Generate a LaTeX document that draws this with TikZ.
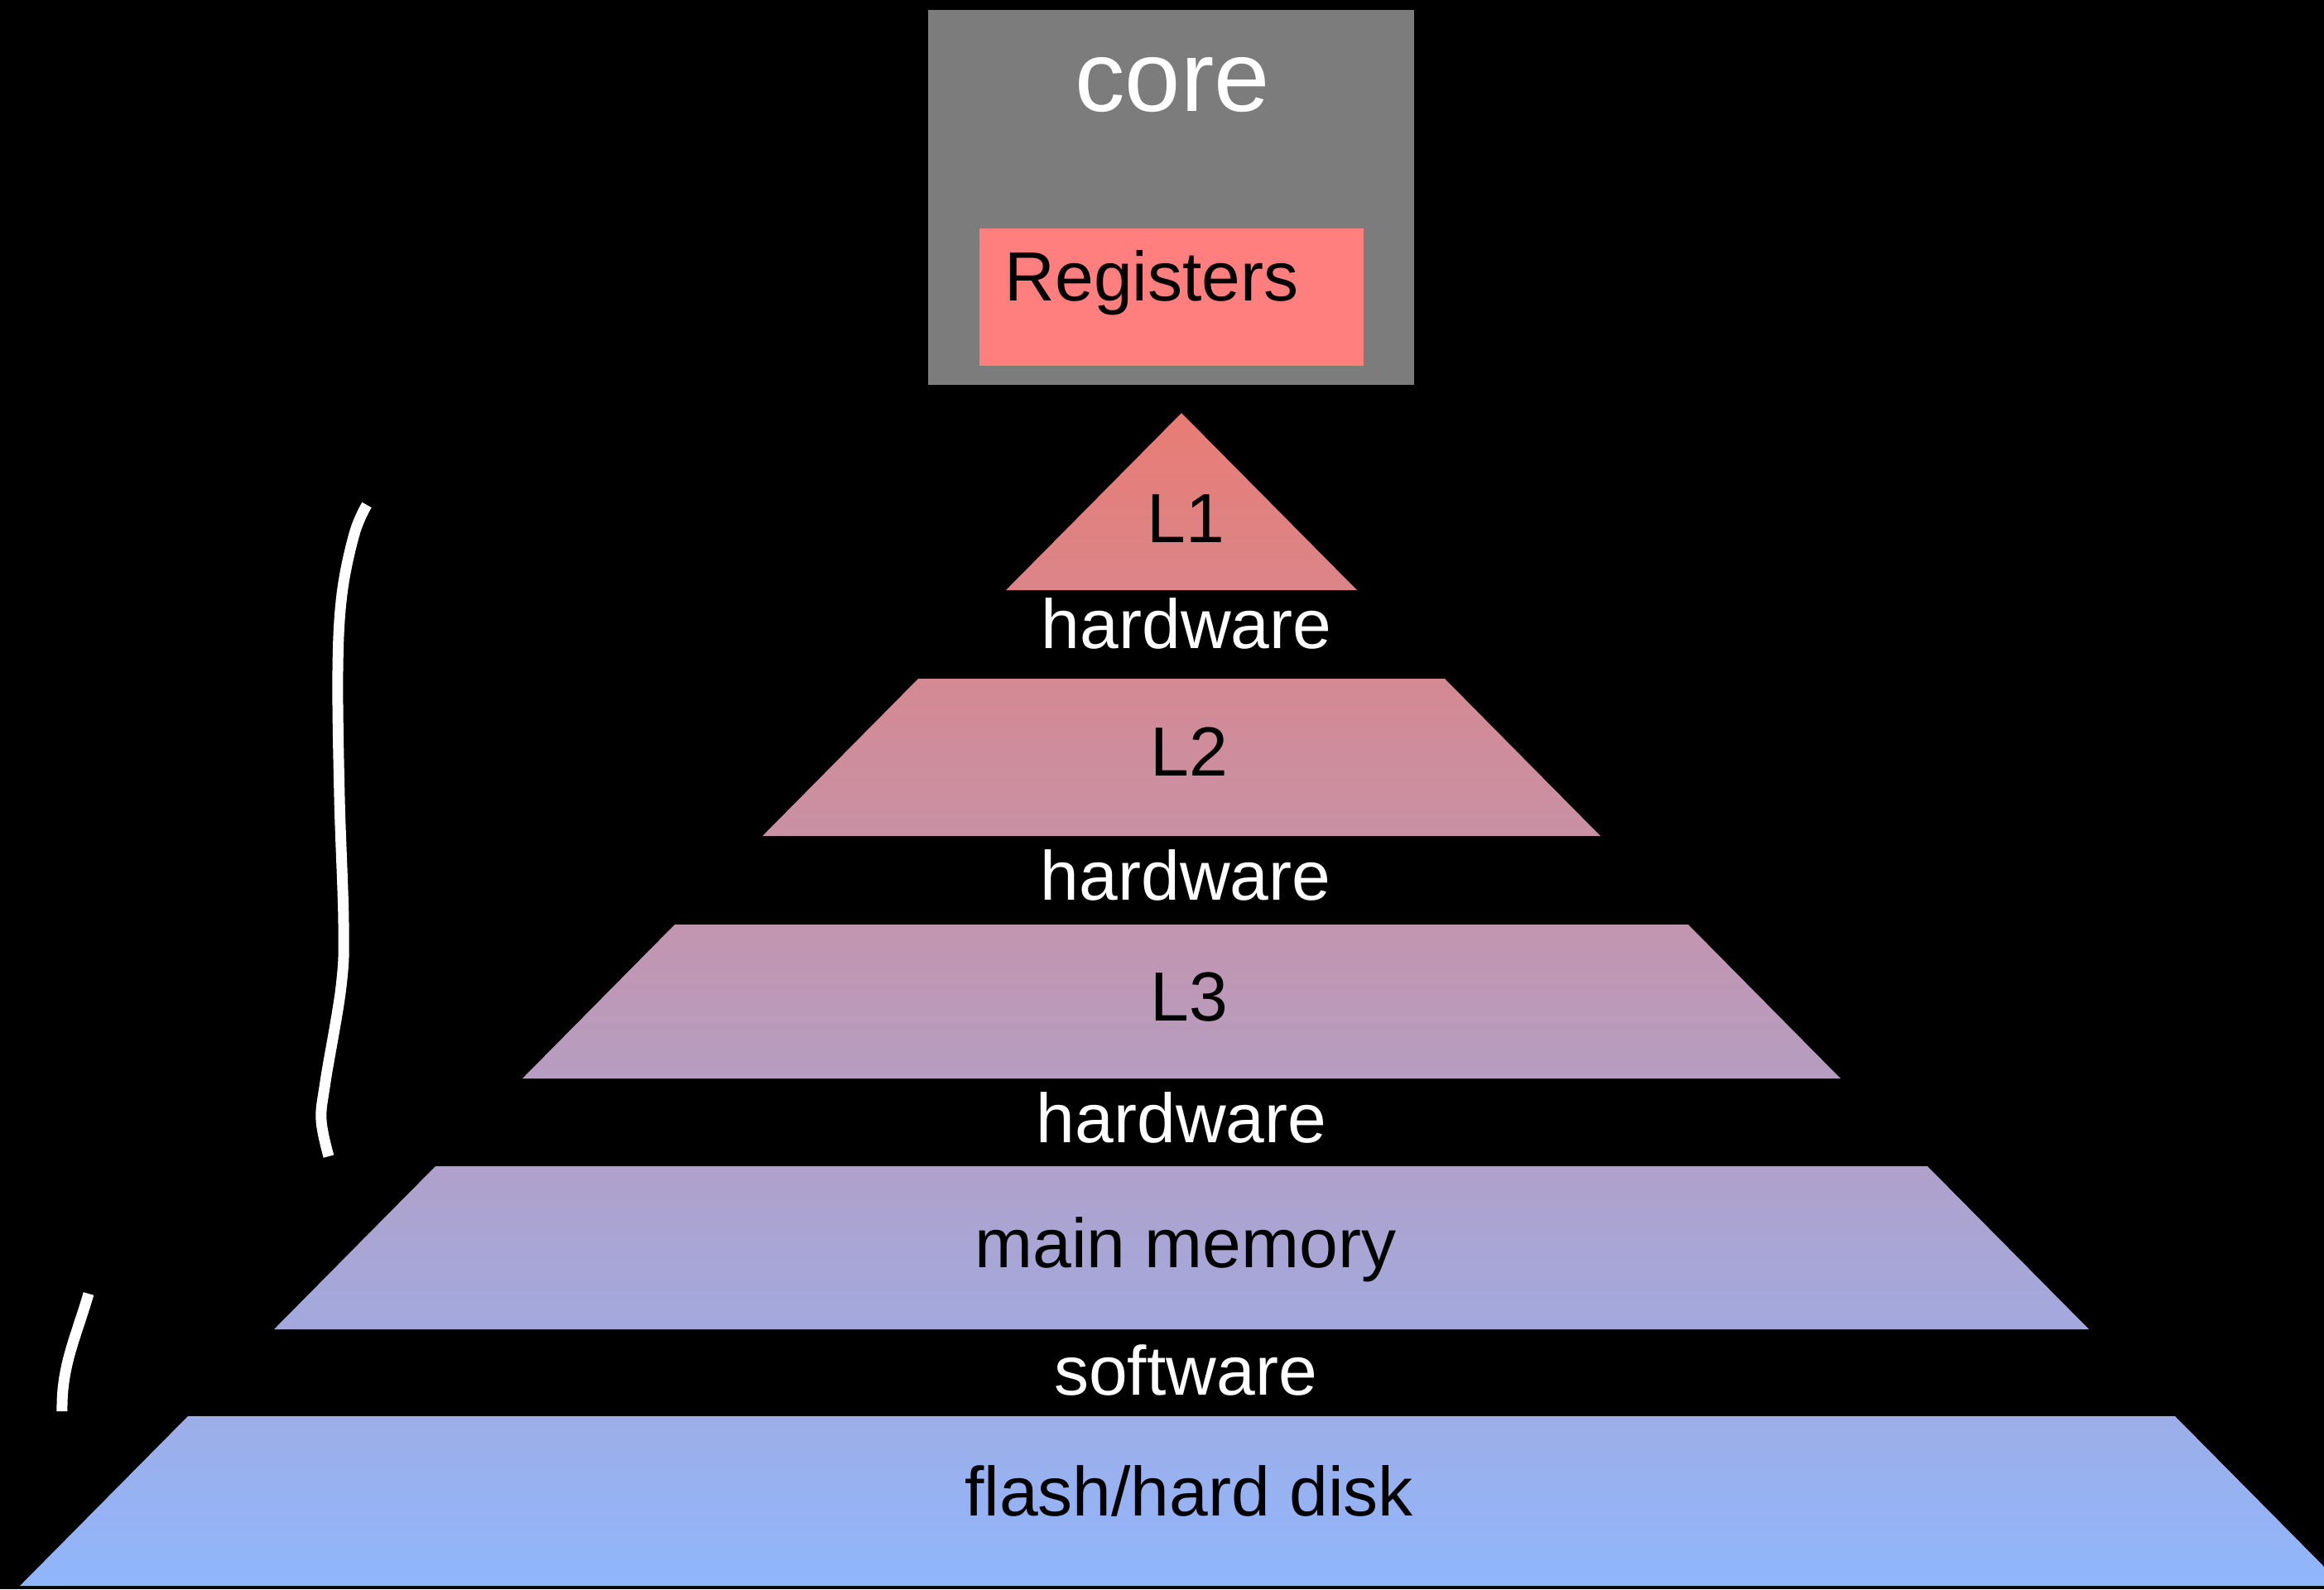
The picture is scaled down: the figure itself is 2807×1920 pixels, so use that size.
\documentclass[tikz,border=0pt]{standalone}
\usepackage{fontspec}
\setmainfont{Liberation Sans}
\definecolor{coregray}{RGB}{124,124,124}
\definecolor{regred}{RGB}{255,127,127}
\definecolor{laT}{RGB}{232,124,116}
\definecolor{laB}{RGB}{219,133,137}
\definecolor{lbT}{RGB}{212,137,147}
\definecolor{lbB}{RGB}{200,145,165}
\definecolor{lcT}{RGB}{194,149,175}
\definecolor{lcB}{RGB}{182,157,193}
\definecolor{ldT}{RGB}{175,161,203}
\definecolor{ldB}{RGB}{163,169,222}
\definecolor{leT}{RGB}{157,174,232}
\definecolor{leB}{RGB}{144,182,252}
\begin{document}
\begin{tikzpicture}[x=0.01cm,y=-0.01cm,
  lbl/.style={inner sep=0pt, anchor=base, font=\fontsize{23.9pt}{28pt}\selectfont},
  darklbl/.style={lbl, text=black},
  whitelbl/.style={lbl, text=white},
  boxnode/.style={inner sep=0pt, outer sep=0pt, anchor=north west, draw=none},
  bracket/.style={draw=white, line width=0.13cm, line cap=butt}]
\fill[black] (0,0) rectangle (2807,1920);
\useasboundingbox (0,0) rectangle (2807,1920);
\begin{scope}
\clip (0,0) rectangle (2807,1920);
% core
\node (corebox) [boxnode, fill=coregray, minimum width=5.87cm, minimum height=4.53cm] at (1121,12) {};
\node (regbox) [boxnode, fill=regred, minimum width=4.64cm, minimum height=1.66cm] at (1183,276) {};
\node (coretxt) [lbl, text=white, font=\fontsize{34.4pt}{40pt}\selectfont] at (1416,134) {core};
\node (regtxt) [lbl, text=black, anchor=base west] at (1213,363) {Registers};
% pyramid layers
\shade[top color=laT, bottom color=laB] (1427,499) -- (1639,713) -- (1215,713) -- cycle;
\shade[top color=lbT, bottom color=lbB] (1109,820) -- (1745,820) -- (1933,1010) -- (921,1010) -- cycle;
\shade[top color=lcT, bottom color=lcB] (815,1117) -- (2039,1117) -- (2223,1303) -- (631,1303) -- cycle;
\shade[top color=ldT, bottom color=ldB] (526,1409) -- (2328,1409) -- (2523,1606) -- (331,1606) -- cycle;
\shade[top color=leT, bottom color=leB] (227,1711) -- (2627,1711) -- (2830,1916) -- (24,1916) -- cycle;
\end{scope}
% labels
\node (l1) [darklbl] at (1432,655) {L1};
\node (hw1) [whitelbl] at (1433,783) {hardware};
\node (l2) [darklbl] at (1436,937) {L2};
\node (hw2) [whitelbl] at (1432,1087) {hardware};
\node (l3) [darklbl] at (1436,1233) {L3};
\node (hw3) [whitelbl] at (1427,1380) {hardware};
\node (mm) [darklbl] at (1432,1531) {main memory};
\node (sw) [whitelbl] at (1432,1685) {software};
\node (disk) [darklbl] at (1436,1831) {flash/hard disk};
% hand-drawn brackets
\draw[bracket] plot[smooth, tension=0.6] coordinates {(443,610) (428,645) (413,718) (408,810) (410,963) (415,1116) (412,1192) (393,1307) (388,1353) (397,1397)};
\draw[bracket] (107,1563) .. controls (92,1615) and (74,1650) .. (75,1705);
\end{tikzpicture}
\end{document}
